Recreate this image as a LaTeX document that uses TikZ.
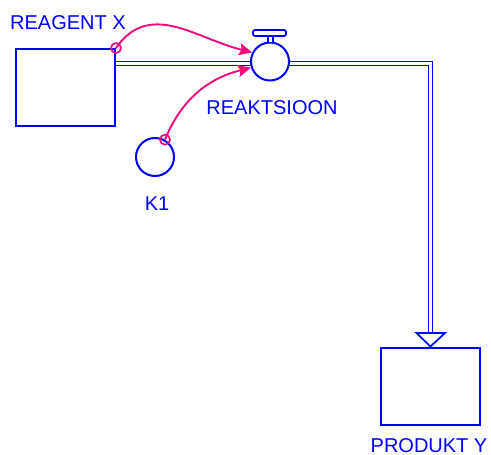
\documentclass[tikz,border=0pt]{standalone}
\usepackage{fontspec}
\setmainfont{Liberation Sans}
\usetikzlibrary{arrows.meta}
\definecolor{sblue}{RGB}{0,0,255}
\definecolor{spink}{RGB}{240,10,125}
\begin{document}
\begin{tikzpicture}[x=1pt,y=-1pt,
  stock/.style={draw=sblue,line width=2pt,fill=white,minimum width=99pt,minimum height=77pt,inner sep=0pt},
  aux/.style={draw=sblue,line width=2pt,fill=white,circle,minimum size=38pt,inner sep=0pt},
  lbl/.style={text=sblue,font=\fontsize{20}{22}\selectfont,inner sep=0pt,anchor=base},
  pipe/.style={draw=sblue,double=white,double distance=2.4pt,line width=1.6pt},
  conn/.style={draw=spink,line width=1.9pt,-{Stealth[length=13pt,width=12pt,inset=2pt]}},
  tapc/.style={draw=spink,line width=1.7pt,fill=none,circle,minimum size=10pt,inner sep=0pt}
]
\useasboundingbox (0,0) rectangle (491,455);
% stocks
\node[stock] (rx) at (65.5,87.5) {};
\node[stock] (py) at (430.5,386) {};
% pipe
\coordinate (pbend) at (430.5,63.5);
\coordinate (pend) at (430.5,333);
\draw[pipe] (rx.east |- pbend) -- (pbend) -- (pend);
% arrow head of flow
\draw[draw=sblue,line width=1.7pt,fill=white,line join=miter] (416.5,333) -- (445,333) -- (py.north) -- cycle;
% valve
\node[aux] (valve) at (270,61.5) {};
\draw[draw=sblue,line width=1.6pt,fill=white] (268,36) rectangle (273,42.5);
\draw[draw=sblue,line width=1.7pt,fill=white,rounded corners=2pt] (253,30) rectangle (286,36);
% aux
\node[aux] (k1) at (155,157) {};
% labels
\node[lbl,anchor=base west] (lrx) at (10,30) {REAGENT X};
\node[lbl] (lval) at (272,114) {REAKTSIOON};
\node[lbl] (lk1) at (157,210) {K1};
\node[lbl] (lpy) at (429,452) {PRODUKT Y};
% connectors
\node[tapc] (t1) at (rx.north east) {};
\node[tapc] (t2) at (k1.60) {};
\draw[conn] (t1.center) to[out=55,in=166,looseness=1.1] (valve.153);
\draw[conn] (t2.center) to[out=68,in=194,looseness=1.0] (valve.198);
\end{tikzpicture}
\end{document}
